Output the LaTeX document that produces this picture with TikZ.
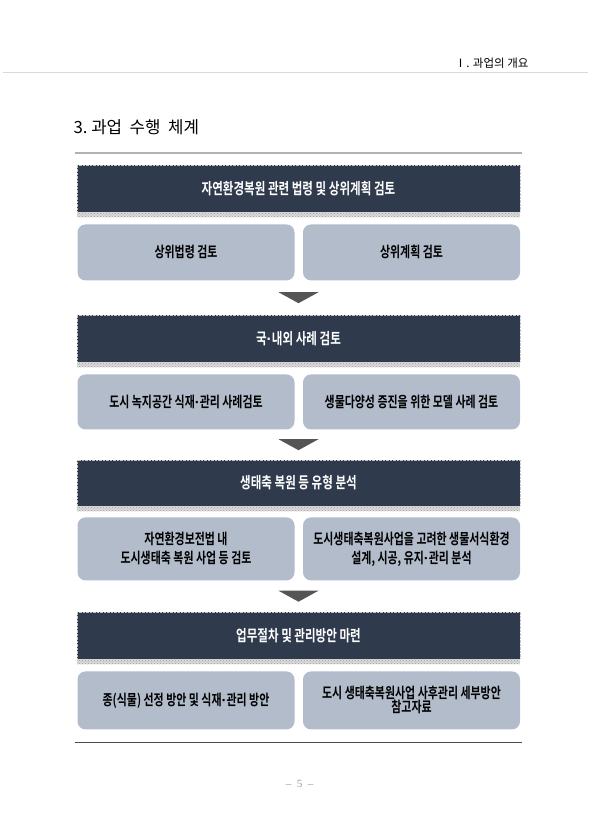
\documentclass[tikz,border=0pt]{standalone}
\usepackage{fontspec}
\setmainfont{Noto Sans CJK KR}
\newfontfamily\boxfont{Noto Sans CJK KR Bold}[FakeStretch=0.74]
\newfontfamily\pagefont{Liberation Serif}
\newfontfamily\dotfont{Liberation Sans Bold}
\newcommand\md{{\dotfont ·}}
\usepackage{tikz}
\usetikzlibrary{positioning,calc,patterns}
\definecolor{navy}{HTML}{2F3A4D}
\definecolor{slate}{HTML}{B2BCCB}
\definecolor{darrow}{HTML}{555555}

\begin{document}
\begin{tikzpicture}[x=1pt, y=-1pt,
  hdr/.style={draw=gray!45, densely dotted, fill=navy, text=white, inner sep=0pt,
    minimum width=443pt, minimum height=47pt, font=\boxfont\fontsize{15.6}{18}\selectfont},
  item/.style={fill=slate, rounded corners=8pt, inner sep=0pt, align=center,
    minimum width=217pt, minimum height=56pt, font=\boxfont\fontsize{14.8}{19}\selectfont},
  strip/.style={fill=gray!30, postaction={pattern=crosshatch dots, pattern color=gray!75}},
  down/.style={fill=darrow}]
\useasboundingbox (0,0) rectangle (591,830);

% page head
\node[anchor=east, font=\fontsize{11.5}{13}\selectfont] (part) at (532,63) {Ⅰ. 과업의 개요};
\draw[gray!30, line width=0.6pt] (3,72) -- (588,72);
\node[anchor=west, font=\fontsize{16.8}{20}\selectfont] (title) at (70,127) {3.\ 과업\ \ 수행\ \ 체계};
\draw[gray!60, line width=1.5pt] (75,153) -- (522,153);

% sections
\node[hdr] (lawhdr) at (298.5,188.5) {자연환경복원 관련 법령 및 상위계획 검토};
\path[strip] (lawhdr.south west) rectangle ++(443,5);
\node[item, below right=12pt and 0.5pt of lawhdr.south west] (lawA) {상위법령 검토};
\node[item, below left=12pt and 0pt of lawhdr.south east] (lawB) {상위계획 검토};

\node[hdr] (casehdr) at (298.5,338.5) {국\md 내외 사례 검토};
\path[strip] (casehdr.south west) rectangle ++(443,5);
\node[item, minimum height=55pt, below right=12pt and 0.5pt of casehdr.south west] (caseA) {도시 녹지공간 식재\md 관리 사례검토};
\node[item, minimum height=55pt, below left=12pt and 0pt of casehdr.south east] (caseB) {생물다양성 증진을 위한 모델 사례 검토};

\node[hdr, minimum height=46pt] (typehdr) at (298.5,483) {생태축 복원 등 유형 분석};
\path[strip] (typehdr.south west) rectangle ++(443,5);
\node[item, minimum height=63pt, below right=11pt and 0.5pt of typehdr.south west] (typeA) {자연환경보전법 내\\도시생태축 복원 사업 등 검토};
\node[item, minimum height=63pt, below left=11pt and 0pt of typehdr.south east] (typeB) {도시생태축복원사업을 고려한 생물서식환경\\설계, 시공, 유지\md 관리 분석};

\node[hdr] (planhdr) at (298.5,635.5) {업무절차 및 관리방안 마련};
\path[strip] (planhdr.south west) rectangle ++(443,5);
\node[item, minimum height=58pt, below right=12pt and 0.5pt of planhdr.south west] (planA) {종(식물) 선정 방안 및 식재\md 관리 방안};
\node[item, minimum height=58pt, below left=12pt and 0pt of planhdr.south east] (planB) {도시 생태축복원사업 사후관리 세부방안\\[-5pt]참고자료};

% arrows between sections
\foreach \a/\b in {lawA/casehdr, caseA/typehdr, typeA/planhdr} {
  \coordinate (mid) at ($(\b.north |- \a.south)!0.5!(\b.north)$);
  \fill[down] ($(mid)+(-20,-5.5)$) -- ($(mid)+(20,-5.5)$) -- ($(mid)+(0,5.5)$) -- cycle;
}

% page foot
\draw[black!70, line width=0.8pt] (75,742) -- (522,742);
\node[font=\pagefont\fontsize{11}{13}\selectfont, text=gray!80] (pageno) at (299.5,784) {–\ \ 5\ \ –};
\end{tikzpicture}
\end{document}
